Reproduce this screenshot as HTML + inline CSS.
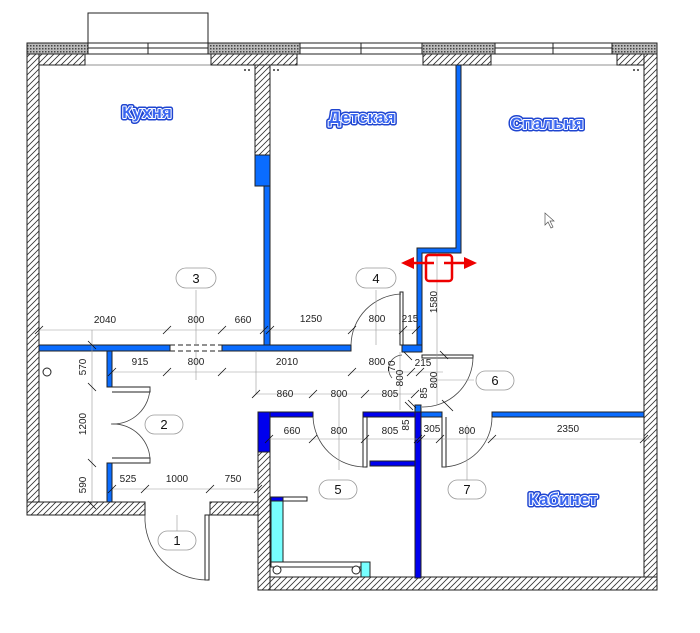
<!DOCTYPE html>
<html><head><meta charset="utf-8"><style>
html,body{margin:0;padding:0;background:#fff;}
svg{display:block;}
.d{font:10px "Liberation Sans",sans-serif;fill:#222;text-anchor:middle;}
.b{font:13px "Liberation Sans",sans-serif;fill:#111;text-anchor:middle;}
.r1{font:bold 17px "Liberation Sans","DejaVu Sans",sans-serif;text-anchor:middle;fill:none;stroke:#1f45d0;stroke-width:5;stroke-linejoin:round;}
.r2{font:bold 17px "Liberation Sans","DejaVu Sans",sans-serif;text-anchor:middle;fill:#3a66f0;stroke:#fff;stroke-width:2;paint-order:stroke;stroke-linejoin:round;}
</style></head><body>
<svg width="700" height="633" viewBox="0 0 700 633" xmlns="http://www.w3.org/2000/svg">
<defs>
<pattern id="h" width="6" height="6" patternUnits="userSpaceOnUse"><rect width="6" height="6" fill="#fff"/><path d="M0 6L6 0M-1 1L1 -1M5 7L7 5" stroke="#333" stroke-width="0.8"/></pattern>
<pattern id="x" width="3" height="3" patternUnits="userSpaceOnUse"><rect width="3" height="3" fill="#bbb"/><rect width="1.5" height="1.5" fill="#444"/></pattern>
</defs>
<g stroke="#222" stroke-width="1">
<rect x="27" y="43" width="61" height="11" fill="url(#x)"/>
<rect x="208" y="43" width="92" height="11" fill="url(#x)"/>
<rect x="422" y="43" width="73" height="11" fill="url(#x)"/>
<rect x="612" y="43" width="45" height="11" fill="url(#x)"/>
<rect x="88" y="13" width="120" height="30" fill="#fff"/>
<rect x="88" y="43" width="120" height="11" fill="#fff"/>
<rect x="300" y="43" width="122" height="11" fill="#fff"/>
<rect x="495" y="43" width="117" height="11" fill="#fff"/>
<path d="M88 48H208M300 48H422M495 48H612M148 43V54M361 43V54M553 43V54" fill="none"/>
<rect x="27" y="54" width="58" height="11" fill="url(#h)"/>
<rect x="211" y="54" width="86" height="11" fill="url(#h)"/>
<rect x="423" y="54" width="68" height="11" fill="url(#h)"/>
<rect x="617" y="54" width="27" height="11" fill="url(#h)"/>
<path d="M85 65H211M297 65H423M491 65H617" fill="none" stroke-width="0.6"/>
<rect x="27" y="54" width="12" height="461" fill="url(#h)"/>
<rect x="644" y="54" width="13" height="536" fill="url(#h)"/>
<rect x="255" y="65" width="15" height="90" fill="url(#h)"/>
<rect x="255" y="155" width="15" height="31" fill="#0a6cff"/>
<rect x="264" y="186" width="6" height="160" fill="#0a6cff"/>
<path d="M456 65V248H417V345H422V253H461V65Z" fill="#0a6cff"/>
<path d="M402 345H422V352H402Z" fill="#0a6cff"/>
<rect x="39" y="345" width="131" height="6" fill="#0a6cff"/>
<rect x="222" y="345" width="129" height="6" fill="#0a6cff"/>
<path d="M170 345H222M170 351H222" stroke-dasharray="5 3" fill="none"/>
<rect x="107" y="351" width="5" height="36" fill="#0a6cff"/>
<rect x="107" y="463" width="5" height="39" fill="#0a6cff"/>
<path d="M112 387H150V392H112M112 463H150V458H112" fill="none"/>
<rect x="27" y="502" width="118" height="13" fill="url(#h)"/>
<rect x="210" y="502" width="48" height="13" fill="url(#h)"/>
<rect x="258" y="452" width="12" height="138" fill="url(#h)"/>
<rect x="270" y="577" width="387" height="13" fill="url(#h)"/>
<rect x="258" y="412" width="55" height="5" fill="#0000ee"/>
<rect x="258" y="412" width="12" height="40" fill="#0000ee"/>
<rect x="363" y="412" width="54" height="5" fill="#0000ee"/>
<rect x="415" y="412" width="6" height="166" fill="#0000ee"/>
<rect x="370" y="461" width="45" height="5" fill="#0000ee"/>
<rect x="421" y="412" width="21" height="5" fill="#0a6cff"/>
<rect x="415" y="405" width="6" height="7" fill="#0a6cff"/>
<rect x="492" y="412" width="152" height="5" fill="#0a6cff"/>
<path d="M363 417V467H367V417M442 417V467H446V417" fill="none"/>
<rect x="271" y="497" width="12" height="66" fill="#7ff"/>
<rect x="271" y="497" width="12" height="4" fill="#0000ee"/>
<rect x="283" y="497" width="24" height="4" fill="#fff"/>
<rect x="271" y="562" width="99" height="5" fill="#fff"/>
<rect x="361" y="562" width="9" height="15" fill="#7ff"/>
<circle cx="277" cy="570" r="4" fill="#fff"/>
<circle cx="356" cy="570" r="4" fill="#fff"/>
<circle cx="47" cy="372" r="4" fill="#fff"/>
<rect x="400" y="292" width="3" height="53" fill="#fff"/>
<rect x="422" y="355" width="51" height="3" fill="#fff"/>
<rect x="205" y="515" width="4" height="65" fill="#fff"/>
</g>
<g fill="none" stroke="#444" stroke-width="0.8">
<path d="M351 345A52 52 0 0 1 401 294"/>
<path d="M150 387A37 37 0 0 1 111 424A37 37 0 0 1 150 463"/>
<path d="M145 515A62 62 0 0 0 207 580"/>
<path d="M313 417A52 52 0 0 0 365 467"/>
<path d="M442 467A50 50 0 0 0 492 417"/>
<path d="M473 357A50 50 0 0 1 422 407"/>
<path d="M402 355A14 14 0 0 0 392 378"/>
</g>
<g stroke="#999" stroke-width="0.6" fill="none">
<path d="M39 330H416M112 372H443M256 394H415M269 439H650M112 489H258M92 345V505M437 253V405M400 352V410"/>
<path d="M196 290V345M376 290V345M196 351V380M339 394V470M467 425V480M177 515V532M163 424H145M474 380H430M92 330V345M256 351V394"/>
</g>
<g stroke="#111" stroke-width="0.8">
<path d="M35 334l8-8M163 334l8-8M218 334l8-8M260 334l8-8M266 334l8-8M348 334l8-8M399 334l8-8M412 334l8-8"/>
<path d="M108 376l8-8M163 376l8-8M218 376l8-8M348 376l8-8M407 376l8-8M416 376l8-8"/>
<path d="M252 398l8-8M309 398l8-8M361 398l8-8M411 398l8-8"/>
<path d="M265 443l8-8M309 443l8-8M361 443l8-8M414 443l8-8M417 443l8-8M436 443l8-8M488 443l8-8M640 443l8-8"/>
<path d="M108 493l8-8M141 493l8-8M206 493l8-8M254 493l8-8"/>
<path d="M88 341l8 8M88 383l8 8M88 459l8 8M88 501l8 8"/>
<path d="M405 402l8 8M408 400l8 8M442 400l8 8M445 403l8 8M440 351l8 8M404 352l8 8"/>
</g>
<g class="d">
<text x="105" y="323">2040</text><text x="196" y="323">800</text><text x="243" y="323">660</text><text x="311" y="322">1250</text><text x="377" y="322">800</text><text x="410" y="322">215</text>
<text x="140" y="365">915</text><text x="196" y="365">800</text><text x="287" y="365">2010</text><text x="377" y="365">800</text><text x="423" y="366">215</text>
<text x="285" y="397">860</text><text x="339" y="397">800</text><text x="390" y="397">805</text>
<text x="292" y="434">660</text><text x="339" y="434">800</text><text x="390" y="434">805</text><text x="432" y="432">305</text><text x="467" y="434">800</text><text x="568" y="432">2350</text>
<text x="128" y="482">525</text><text x="177" y="482">1000</text><text x="233" y="482">750</text>
<text transform="translate(86 367) rotate(-90)">570</text>
<text transform="translate(86 424) rotate(-90)">1200</text>
<text transform="translate(86 485) rotate(-90)">590</text>
<text transform="translate(437 302) rotate(-90)">1580</text>
<text transform="translate(437 380) rotate(-90)">800</text>
<text transform="translate(403 378) rotate(-90)">800</text>
<text transform="translate(395 366) rotate(-90)">70</text>
<text transform="translate(427 393) rotate(-90)">85</text>
<text transform="translate(409 425) rotate(-90)">85</text>
</g>
<g fill="#fff" stroke="#999" stroke-width="0.8">
<rect x="176" y="268" width="40" height="20" rx="10"/>
<rect x="356" y="268" width="40" height="20" rx="10"/>
<rect x="145" y="415" width="38" height="19" rx="9.5"/>
<rect x="158" y="531" width="38" height="19" rx="9.5"/>
<rect x="319" y="480" width="38" height="19" rx="9.5"/>
<rect x="476" y="371" width="38" height="19" rx="9.5"/>
<rect x="448" y="480" width="38" height="19" rx="9.5"/>
</g>
<g class="b">
<text x="196" y="283">3</text><text x="376" y="283">4</text><text x="164" y="429">2</text><text x="177" y="545">1</text><text x="338" y="494">5</text><text x="495" y="385">6</text><text x="467" y="494">7</text>
</g>
<text class="r1" x="147" y="118">Кухня</text><text class="r2" x="147" y="118">Кухня</text>
<text class="r1" x="362" y="123">Детская</text><text class="r2" x="362" y="123">Детская</text>
<text class="r1" x="547" y="129">Спальня</text><text class="r2" x="547" y="129">Спальня</text>
<text class="r1" x="563" y="505">Кабинет</text><text class="r2" x="563" y="505">Кабинет</text>
<g fill="#333"><circle cx="245" cy="70" r="1"/><circle cx="249" cy="70" r="1"/><circle cx="274" cy="70" r="1"/><circle cx="278" cy="70" r="1"/><circle cx="634" cy="70" r="1"/><circle cx="638" cy="70" r="1"/></g>
<path d="M545 213V225L548 222L551 228L553 227L550 221L554 221Z" fill="#fff" stroke="#555" stroke-width="0.7"/>
<g fill="none" stroke="#e00" stroke-width="2.5">
<rect x="426" y="255" width="26" height="26" rx="3"/>
<path d="M412 263H434M444 263H466"/>
</g>
<path d="M401 263L414 257V269Z M477 263L464 257V269Z" fill="#e00"/>
</svg>
</body></html>
